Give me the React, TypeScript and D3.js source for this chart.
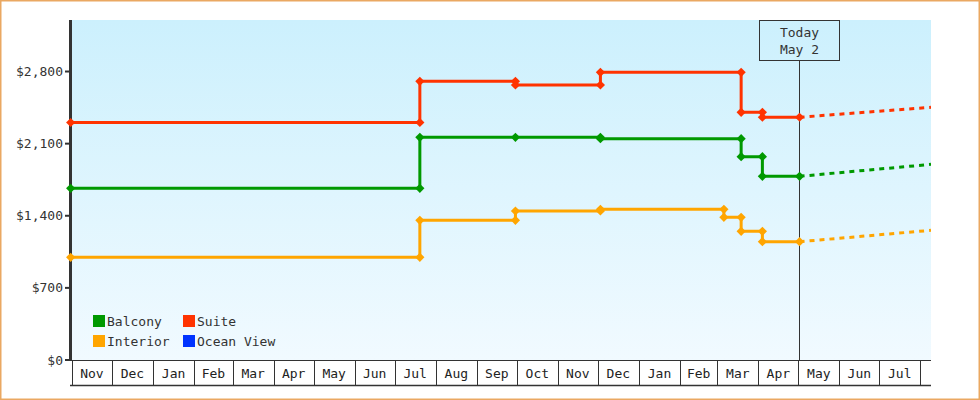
import React from 'react';
import * as d3 from 'd3';

const parse = d3.timeParse('%Y-%m-%d');

// Series (cabin categories)
const seriesNames = ['Balcony', 'Suite', 'Interior', 'Ocean View'];
const seriesColors = ['#009900', '#ff3300', '#ffa500', '#0033ff'];

// Price history (dates + values)
const balconyDates = ['2011-10-31', '2012-07-20', '2012-07-20', '2012-09-30', '2012-12-03', '2012-12-03', '2013-03-19', '2013-03-19', '2013-04-04', '2013-04-04', '2013-05-02'];
const balconyValues = [1666, 1666, 2161, 2161, 2161, 2148, 2148, 1973, 1973, 1783, 1783];

const suiteDates = ['2011-10-31', '2012-07-20', '2012-07-20', '2012-09-30', '2012-09-30', '2012-12-03', '2012-12-03', '2013-03-19', '2013-03-19', '2013-04-04', '2013-04-04', '2013-05-02'];
const suiteValues = [2305, 2305, 2705, 2705, 2669, 2669, 2792, 2792, 2404, 2404, 2356, 2356];

const interiorDates = ['2011-10-31', '2012-07-20', '2012-07-20', '2012-09-30', '2012-09-30', '2012-12-03', '2012-12-03', '2013-03-06', '2013-03-06', '2013-03-19', '2013-03-19', '2013-04-04', '2013-04-04', '2013-05-02'];
const interiorValues = [997, 997, 1356, 1356, 1446, 1446, 1462, 1462, 1385, 1385, 1249, 1249, 1148, 1148];

const oceanViewDates: string[] = [];
const oceanViewValues: number[] = [];

// Projection (dotted)
const projDates = ['2013-05-02', '2013-08-09'];
const balconyProj = [1783, 1899];
const suiteProj = [2356, 2453];
const interiorProj = [1148, 1259];
const oceanViewProj: number[] = [];

const yTicks = [0, 700, 1400, 2100, 2800];
const domainStart = '2011-11-01';
const domainEnd = '2013-08-09';
const todayDate = '2013-05-02';
const todayLabel = ['Today', 'May 2'];

const FONT = '"DejaVu Sans Mono", "Liberation Mono", monospace';

export default function App() {
  const W = 980;
  const H = 400;
  const left = 72, right = 931, top = 20, bottom = 360, axisBottom = 385;

  const x = d3.scaleTime().domain([parse(domainStart)!, parse(domainEnd)!]).range([left, right]);
  const y = d3.scaleLinear().domain([0, 3300]).range([bottom, top]);

  const line = d3.line<[Date, number]>().x((d) => x(d[0])).y((d) => y(d[1]));

  const hist: [string[], number[]][] = [
    [balconyDates, balconyValues],
    [suiteDates, suiteValues],
    [interiorDates, interiorValues],
    [oceanViewDates, oceanViewValues],
  ];
  const projs = [balconyProj, suiteProj, interiorProj, oceanViewProj];

  const series = hist.map(([ds, vs], i) => ({
    name: seriesNames[i],
    color: seriesColors[i],
    pts: ds.map((d, j) => [parse(d)!, vs[j]] as [Date, number]),
    proj: projs[i].map((v, j) => [parse(projDates[j])!, v] as [Date, number]),
  }));

  const months = d3.timeMonth.range(parse(domainStart)!, parse(domainEnd)!);
  const dEnd = parse(domainEnd)!;
  const todayX = Math.floor(x(parse(todayDate)!)) + 0.5;

  const diamond = 'M0,-4.6L4.6,0L0,4.6L-4.6,0Z';

  const legendItems = [
    { i: 0, lx: 93, ly: 315 },
    { i: 1, lx: 183, ly: 315 },
    { i: 2, lx: 93, ly: 335 },
    { i: 3, lx: 183, ly: 335 },
  ];

  return (
    <div style={{ position: 'absolute', left: 0, top: 0 }}>
      <svg width={W} height={H} style={{ display: 'block' }}>
        <defs>
          <linearGradient id="bg" x1="0" y1="0" x2="0" y2="1">
            <stop offset="0" stopColor="#ccf0fd" />
            <stop offset="1" stopColor="#f1faff" />
          </linearGradient>
          <clipPath id="plotClip">
            <rect x={left - 6} y={top} width={right - left + 6} height={bottom - top + 6} />
          </clipPath>
        </defs>
        <rect x={0} y={0} width={W} height={H} fill="#ffffff" />
        <rect x={0.75} y={0.75} width={W - 1.5} height={H - 1.5} fill="none" stroke="#eaa862" strokeWidth={1.5} />
        <rect x={left} y={top} width={right - left} height={bottom - top} fill="url(#bg)" />

        {/* today marker */}
        <line x1={todayX} x2={todayX} y1={60} y2={bottom} stroke="#333" strokeWidth={1} />
        <rect x={todayX - 40} y={20.5} width={80} height={40} fill="none" stroke="#333" strokeWidth={1} />
        <text x={todayX} y={37} textAnchor="middle" fontFamily={FONT} fontSize={13} fill="#333">{todayLabel[0]}</text>
        <text x={todayX} y={54} textAnchor="middle" fontFamily={FONT} fontSize={13} fill="#333">{todayLabel[1]}</text>

        {/* x axis month boxes */}
        <line x1={left} x2={right} y1={bottom + 0.5} y2={bottom + 0.5} stroke="#333" strokeWidth={1} />
        <line x1={70} x2={right} y1={axisBottom + 0.5} y2={axisBottom + 0.5} stroke="#333" strokeWidth={1.5} />
        {months.map((m, k) => {
          const next = d3.timeMonth.offset(m, 1);
          const mx = Math.round(x(m)) + 0.5;
          const full = next <= dEnd;
          return (
            <g key={k}>
              <line x1={mx} x2={mx} y1={bottom} y2={axisBottom} stroke="#333" strokeWidth={1} />
              {full && (
                <line x1={Math.round(x(next)) + 0.5} x2={Math.round(x(next)) + 0.5} y1={bottom} y2={axisBottom} stroke="#333" strokeWidth={1} />
              )}
              {full && (
                <text x={(x(m) + x(next)) / 2} y={378} textAnchor="middle" fontFamily={FONT} fontSize={13} fill="#222">
                  {d3.timeFormat('%b')(m)}
                </text>
              )}
            </g>
          );
        })}

        {/* y axis */}
        <line x1={70.5} x2={70.5} y1={top} y2={bottom + 1} stroke="#333" strokeWidth={3} />
        {yTicks.map((t) => (
          <g key={t}>
            <line x1={65} x2={70} y1={y(t)} y2={y(t)} stroke="#333" strokeWidth={2} />
            <text x={63} y={y(t)} dy="0.35em" textAnchor="end" fontFamily={FONT} fontSize={13} fill="#333">
              {d3.format('$,')(t)}
            </text>
          </g>
        ))}

        {/* series */}
        <g clipPath="url(#plotClip)">
          {series.map((s) =>
            s.proj.length > 1 ? (
              <path key={'p' + s.name} d={line(s.proj) || ''} fill="none" stroke={s.color} strokeWidth={3} strokeDasharray="5,5" />
            ) : null
          )}
        </g>
        {series.map((s) =>
          s.pts.length > 1 ? (
            <path key={'l' + s.name} d={line(s.pts) || ''} fill="none" stroke={s.color} strokeWidth={3} />
          ) : null
        )}
        {series.map((s) =>
          s.pts.map((p, j) => (
            <path key={s.name + j} d={diamond} transform={`translate(${x(p[0])},${y(p[1])})`} fill={s.color} />
          ))
        )}

        {/* legend */}
        {legendItems.map(({ i, lx, ly }) => (
          <g key={i}>
            <rect x={lx} y={ly} width={12} height={12} fill={seriesColors[i]} />
            <text x={lx + 14} y={ly + 10.5} fontFamily={FONT} fontSize={13} fill="#333">{seriesNames[i]}</text>
          </g>
        ))}
      </svg>
    </div>
  );
}
